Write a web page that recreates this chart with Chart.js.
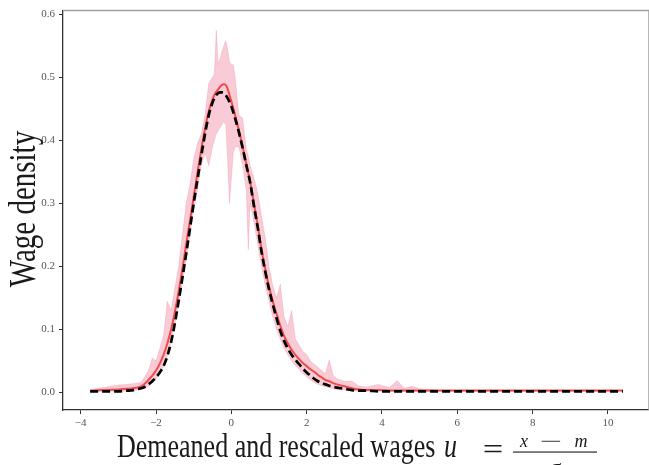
<!DOCTYPE html>
<html>
<head>
<meta charset="utf-8">
<script src="https://cdn.jsdelivr.net/npm/chart.js@4.4.1/dist/chart.umd.min.js"></script>
<style>
  html, body { margin: 0; padding: 0; background: #fff; }
  #wrap { width: 649px; height: 465px; position: relative; }
</style>
</head>
<body>
<div id="wrap"><canvas id="myChart"></canvas></div>
<script>
// u grid (demeaned, rescaled wage)
var uGrid = [-3.75, -3.4, -3.0, -2.8, -2.6, -2.4, -2.3, -2.2, -2.1, -2.0,
  -1.9, -1.8, -1.7, -1.6, -1.5, -1.4, -1.3, -1.2, -1.1, -1.0,
  -0.9, -0.8, -0.7, -0.6, -0.5, -0.45, -0.4, -0.35, -0.3, -0.25,
  -0.2, -0.15, -0.1, -0.05, 0, 0.05, 0.1, 0.2, 0.3, 0.4,
  0.45, 0.5, 0.6, 0.7, 0.8, 0.9, 1.0, 1.1, 1.2, 1.3,
  1.4, 1.5, 1.6, 1.7, 1.8, 1.9, 2.0, 2.1, 2.2, 2.3,
  2.4, 2.5, 2.6, 2.7, 2.8, 3.0, 3.2, 3.4, 3.6, 3.9,
  4.2, 4.4, 4.6, 4.8, 5.0, 5.3, 5.6, 6.0, 7.0, 8.0,
  9.0, 10.4];

// fitted density (black dashed)
var fitted = [0.002, 0.002, 0.002, 0.003, 0.004, 0.007, 0.009, 0.013, 0.018, 0.024,
  0.032, 0.042, 0.058, 0.08, 0.11, 0.145, 0.182, 0.22, 0.26, 0.3,
  0.338, 0.375, 0.41, 0.44, 0.46, 0.467, 0.472, 0.475, 0.476, 0.476,
  0.475, 0.472, 0.467, 0.461, 0.454, 0.445, 0.435, 0.413, 0.388, 0.36,
  0.347, 0.333, 0.296, 0.262, 0.224, 0.192, 0.164, 0.14, 0.118, 0.098,
  0.082, 0.07, 0.06, 0.052, 0.045, 0.038, 0.032, 0.027, 0.022, 0.018,
  0.015, 0.013, 0.011, 0.009, 0.008, 0.006, 0.004, 0.003, 0.003, 0.002,
  0.002, 0.002, 0.002, 0.002, 0.002, 0.002, 0.002, 0.002, 0.002, 0.002,
  0.002, 0.002];

// mean empirical density (red)
var meanDens = [0.003, 0.004, 0.005, 0.006, 0.007, 0.01, 0.014, 0.02, 0.027, 0.035,
  0.046, 0.06, 0.078, 0.1, 0.128, 0.16, 0.196, 0.235, 0.272, 0.31,
  0.348, 0.385, 0.418, 0.446, 0.465, 0.472, 0.477, 0.481, 0.485, 0.488,
  0.489, 0.488, 0.482, 0.472, 0.462, 0.451, 0.44, 0.416, 0.39, 0.362,
  0.348, 0.334, 0.3, 0.265, 0.228, 0.196, 0.168, 0.145, 0.125, 0.106,
  0.09, 0.078, 0.068, 0.06, 0.053, 0.047, 0.042, 0.037, 0.033, 0.028,
  0.024, 0.02, 0.018, 0.015, 0.013, 0.01, 0.007, 0.005, 0.004, 0.004,
  0.0035, 0.0035, 0.0035, 0.0035, 0.0035, 0.0035, 0.0035, 0.0035, 0.0035, 0.0035,
  0.0035, 0.0035];

// band (pink)
var bandHi = [0.005, 0.008, 0.012, 0.013, 0.014, 0.016, 0.025, 0.035, 0.055, 0.05,
  0.07, 0.09, 0.145, 0.13, 0.165, 0.2, 0.25, 0.3, 0.33, 0.37,
  0.395, 0.41, 0.44, 0.49, 0.5, 0.505, 0.575, 0.52, 0.53, 0.54,
  0.55, 0.558, 0.545, 0.525, 0.52, 0.52, 0.5, 0.44, 0.435, 0.385,
  0.375, 0.36, 0.34, 0.317, 0.28, 0.245, 0.2, 0.17, 0.15, 0.172,
  0.12, 0.105, 0.13, 0.085, 0.075, 0.065, 0.06, 0.05, 0.045, 0.04,
  0.035, 0.03, 0.052, 0.028, 0.022, 0.018, 0.018, 0.01, 0.009, 0.013,
  0.008, 0.019, 0.007, 0.01, 0.006, 0.005, 0.004, 0.004, 0.004, 0.004,
  0.004, 0.004];

var bandLo = [0.002, 0.002, 0.002, 0.002, 0.003, 0.005, 0.007, 0.01, 0.015, 0.022,
  0.03, 0.042, 0.058, 0.08, 0.108, 0.14, 0.175, 0.21, 0.25, 0.29,
  0.32, 0.36, 0.38, 0.36, 0.39, 0.4, 0.41, 0.415, 0.42, 0.425,
  0.43, 0.425, 0.37, 0.3, 0.34, 0.38, 0.39, 0.39, 0.36, 0.32,
  0.226, 0.3, 0.27, 0.235, 0.2, 0.17, 0.145, 0.12, 0.1, 0.085,
  0.07, 0.06, 0.05, 0.043, 0.037, 0.03, 0.025, 0.02, 0.016, 0.013,
  0.011, 0.009, 0.008, 0.006, 0.005, 0.004, 0.003, 0.002, 0.002, 0.002,
  0.002, 0.002, 0.002, 0.002, 0.002, 0.002, 0.002, 0.002, 0.002, 0.002,
  0.002, 0.002];

var xTicks = [-4, -2, 0, 2, 4, 6, 8, 10];
var yTicks = [0.0, 0.1, 0.2, 0.3, 0.4, 0.5, 0.6];

function pts(ys) {
  return uGrid.map(function (u, i) { return { x: u, y: ys[i] }; });
}

var serif = '"Liberation Serif", "DejaVu Serif", serif';

// frame + axis labels drawn by hand (fraction in the x label)
var decor = {
  id: "decor",
  afterDraw: function (chart) {
    var ctx = chart.ctx, a = chart.chartArea;
    ctx.save();
    ctx.strokeStyle = "#a0a0a0";
    ctx.lineWidth = 1.5;
    ctx.beginPath();
    ctx.moveTo(a.left, a.top);
    ctx.lineTo(a.right, a.top);
    ctx.lineTo(a.right, a.bottom);
    ctx.stroke();
    ctx.restore();

    ctx.save();
    ctx.fillStyle = "#1a1a1a";
    ctx.translate(35, 209);
    ctx.rotate(-Math.PI / 2);
    ctx.scale(1, 1.3);
    ctx.font = "29px " + serif;
    ctx.textAlign = "center";
    ctx.textBaseline = "alphabetic";
    ctx.fillText("Wage density", 0, 0);
    ctx.restore();

    ctx.save();
    ctx.fillStyle = "#1a1a1a";
    ctx.textBaseline = "alphabetic";
    ctx.save();
    ctx.translate(0, 457);
    ctx.scale(1, 1.3);
    ctx.textAlign = "left";
    ctx.font = "26px " + serif;
    ctx.fillText("Demeaned and rescaled wages", 117, 0);
    ctx.font = "italic 26px " + serif;
    ctx.fillText("u", 444, 0);
    ctx.restore();
    ctx.save();
    ctx.translate(493, 459);
    ctx.scale(1.4, 1.1);
    ctx.textAlign = "center";
    ctx.font = "26px " + serif;
    ctx.fillText("=", 0, 0);
    ctx.restore();
    ctx.font = "italic 18px " + serif;
    ctx.textAlign = "center";
    ctx.fillText("x", 524, 447);
    ctx.fillText("m", 581, 447);
    ctx.save();
    ctx.translate(551, 447);
    ctx.scale(2.2, 1);
    ctx.font = "18px " + serif;
    ctx.fillText("\u2212", 0, 0);
    ctx.restore();
    ctx.fillRect(513, 451.5, 84, 1.1);
    ctx.font = "italic 22px " + serif;
    ctx.fillText("\u03c3", 555, 474);
    ctx.restore();
  }
};

new Chart(document.getElementById("myChart"), {
  type: "line",
  data: {
    datasets: [
      {
        label: "fitted",
        data: pts(fitted),
        borderColor: "#000",
        borderWidth: 2.7,
        borderDash: [8, 4],
        pointRadius: 0,
        cubicInterpolationMode: "monotone",
        fill: false
      },
      {
        label: "mean",
        data: pts(meanDens),
        borderColor: "rgba(240,60,60,0.9)",
        borderWidth: 2,
        pointRadius: 0,
        cubicInterpolationMode: "monotone",
        fill: false
      },
      {
        label: "upper",
        data: pts(bandHi),
        borderColor: "rgba(230,80,110,0.18)",
        borderWidth: 1,
        pointRadius: 0,
        backgroundColor: "rgba(236,110,140,0.36)",
        fill: "+1"
      },
      {
        label: "lower",
        data: pts(bandLo),
        borderColor: "rgba(230,80,110,0.18)",
        borderWidth: 1,
        pointRadius: 0,
        fill: false
      }
    ]
  },
  options: {
    responsive: true,
    maintainAspectRatio: false,
    animation: false,
    layout: { padding: { top: 9, right: 0, left: 0, bottom: 0 } },
    plugins: { legend: { display: false }, tooltip: { enabled: false } },
    scales: {
      x: {
        type: "linear",
        min: -4.47,
        max: 11.09,
        afterFit: function (s) { s.height = 55; },
        afterBuildTicks: function (s) { s.ticks = xTicks.map(function (v) { return { value: v }; }); },
        border: { color: "#333", width: 1.3 },
        grid: { drawOnChartArea: false, drawTicks: true, tickLength: 4, color: "#333" },
        ticks: {
          color: "#555",
          padding: 3,
          maxRotation: 0,
          font: { family: serif, size: 11 },
          callback: function (v) { return String(v).replace("-", "\u2212"); }
        }
      },
      y: {
        min: -0.0276,
        max: 0.6058,
        afterFit: function (s) { s.width = 63; },
        afterBuildTicks: function (s) { s.ticks = yTicks.map(function (v) { return { value: v }; }); },
        border: { color: "#333", width: 1.3 },
        grid: { drawOnChartArea: false, drawTicks: true, tickLength: 4, color: "#333" },
        ticks: {
          color: "#555",
          padding: 4,
          font: { family: serif, size: 11 },
          callback: function (v) { return v.toFixed(1); }
        }
      }
    }
  },
  plugins: [decor]
});
</script>
</body>
</html>
